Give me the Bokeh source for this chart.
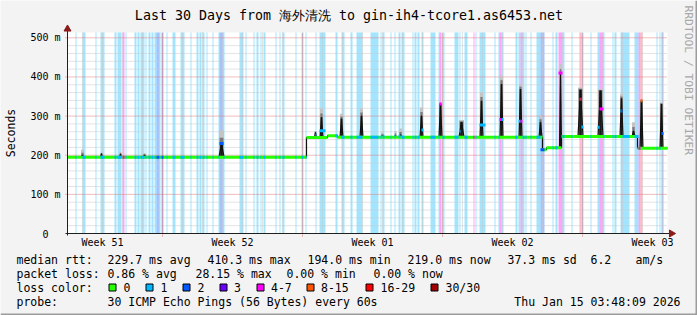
import numpy as np
from bokeh.plotting import figure
from bokeh.models import Range1d
from bokeh.core.properties import value
from bokeh.embed import file_html
from bokeh.resources import INLINE

# ---------------- data ----------------
title_text = "Last 30 Days from 海外清洗 to gin-ih4-tcore1.as6453.net"
y_label = "Seconds"
side_text = "RRDTOOL / TOBI OETIKER"
y_ticks = [0.0, 0.1, 0.2, 0.3, 0.4, 0.5]
y_tick_labels = ["0", "100 m", "200 m", "300 m", "400 m", "500 m"]
week_labels = ["Week 51", "Week 52", "Week 01", "Week 02", "Week 03"]
week_label_day = [1.75, 8.25, 15.25, 22.25, 29.25]   # days since window start
week_line_day = [4.75, 11.75, 18.75, 25.75]
days_total = 30.0
y_top = 0.5135                                       # seconds

loss_names = ["0", "1", "2", "3", "4-7", "8-15", "16-29", "30/30"]
loss_colors = ["#26ff00", "#00b8ff", "#0059ff", "#6a00ff",
               "#ff00ff", "#ff5500", "#ff0000", "#a10000"]

# packet-loss background bars: start day, length (days), loss class index
loss_start = [0.40, 0.75, 1.40, 1.65, 2.35, 2.50, 2.75, 2.90, 3.35, 3.50,
              3.65, 3.90, 4.05, 4.20, 4.35, 4.45, 4.60, 4.70, 4.95, 5.25,
              5.65, 6.15, 6.45, 6.60, 6.75, 6.95, 7.25, 7.55, 7.60, 7.80,
              8.60, 8.90, 9.30, 9.45, 9.65, 9.80, 10.40, 10.60, 10.75, 11.40,
              11.70, 11.90, 12.40, 12.60, 13.40, 13.70, 14.15, 14.45, 15.15, 15.65,
              15.75, 16.15, 16.35, 16.55, 16.70, 17.25, 17.35, 17.50, 17.70, 18.15,
              18.55, 18.60, 18.75, 19.35, 19.60, 19.85, 20.30, 20.40, 20.60, 21.35,
              21.55, 21.60, 21.70, 22.40, 22.55, 22.65, 22.75, 22.90, 23.15, 23.45,
              23.65, 24.25, 24.40, 24.55, 24.75, 25.20, 25.60, 25.65, 25.70, 26.15,
              26.50, 26.60, 26.80, 27.25, 27.35, 27.65, 27.70, 27.75, 28.35, 28.55,
              28.65, 29.45, 29.60, 29.70]
loss_len = [0.05, 0.15, 0.05, 0.20, 0.10, 0.20, 0.10, 0.05, 0.10, 0.10,
            0.20, 0.05, 0.10, 0.10, 0.10, 0.15, 0.05, 0.10, 0.05, 0.15,
            0.20, 0.05, 0.10, 0.10, 0.10, 0.05, 0.05, 0.05, 0.20, 0.05,
            0.20, 0.05, 0.05, 0.10, 0.05, 0.10, 0.05, 0.05, 0.10, 0.05,
            0.10, 0.05, 0.05, 0.30, 0.10, 0.15, 0.10, 0.30, 0.40, 0.05,
            0.10, 0.05, 0.05, 0.10, 0.15, 0.05, 0.10, 0.10, 0.10, 0.25,
            0.05, 0.10, 0.10, 0.20, 0.05, 0.15, 0.05, 0.05, 0.30, 0.05,
            0.05, 0.10, 0.10, 0.10, 0.10, 0.10, 0.10, 0.05, 0.05, 0.20,
            0.20, 0.05, 0.10, 0.20, 0.10, 0.05, 0.05, 0.05, 0.10, 0.05,
            0.10, 0.20, 0.05, 0.05, 0.10, 0.05, 0.05, 0.35, 0.20, 0.10,
            0.10, 0.05, 0.05, 0.10]
loss_class = [1, 1, 1, 1, 1, 1, 4, 1, 1, 1,
              1, 1, 1, 1, 1, 2, 1, 2, 1, 1,
              1, 1, 1, 1, 1, 1, 1, 1, 2, 1,
              1, 1, 1, 1, 1, 1, 1, 1, 1, 1,
              1, 1, 1, 1, 1, 1, 1, 1, 1, 1,
              1, 1, 1, 1, 1, 1, 1, 1, 1, 1,
              1, 4, 1, 1, 1, 1, 4, 1, 1, 1,
              1, 4, 1, 1, 1, 4, 1, 1, 1, 1,
              2, 1, 1, 4, 1, 1, 4, 5, 1, 1,
              1, 4, 1, 1, 1, 1, 2, 1, 1, 4,
              5, 1, 1, 2]

# median rtt plateaus (ms)
level_from = [0.00, 11.95, 13.00, 13.50, 23.75, 23.95, 24.70, 28.50]
level_to = [11.95, 13.00, 13.50, 23.75, 23.95, 24.70, 28.50, 30.00]
level_ms = [195, 245, 250, 246, 214, 219, 248, 218]

# rtt spikes: centre day, width (days), median peak (ms), top of smoke (ms)
spike_day = [0.75, 1.70, 2.65, 3.85, 7.70, 12.40, 12.70, 13.70, 14.70, 15.75,
             16.40, 16.65, 17.70, 18.65, 19.70, 20.70, 21.70, 22.65, 23.65, 24.65,
             25.65, 26.65, 27.70, 28.30, 28.70, 29.70]
spike_w = [0.15, 0.10, 0.10, 0.15, 0.25, 0.10, 0.15, 0.15, 0.15, 0.15,
           0.10, 0.15, 0.15, 0.15, 0.25, 0.15, 0.15, 0.15, 0.15, 0.10,
           0.25, 0.25, 0.15, 0.15, 0.15, 0.15]
spike_peak_ms = [200, 204, 203, 200, 230, 258, 297, 293, 301, 250,
                 250, 252, 301, 331, 284, 339, 382, 369, 284, 410,
                 367, 365, 345, 262, 339, 331]
spike_smoke_ms = [214, 207, 208, 205, 263, 262, 319, 306, 319, 258,
                  262, 268, 322, 335, 290, 360, 403, 382, 301, 433,
                  373, 369, 356, 284, 341, 335]

legend_rows = [
    ["median rtt:", "229.7 ms avg", "410.3 ms max", "194.0 ms min",
     "219.0 ms now", "37.3 ms sd", "6.2", "am/s"],
    ["packet loss:", "0.86 % avg", "28.15 % max", "0.00 % min", "0.00 % now"],
    ["loss color:"],
    ["probe:", "30 ICMP Echo Pings (56 Bytes) every 60s"],
]
stamp_text = "Thu Jan 15 03:48:09 2026"

# ---------------- layout (canvas pixels) ----------------
W, H = 697, 315
X0, PXD = 67.0, 20.0      # pixel of day 0, pixels per day
Y0, PXS = 233.0, 391.4    # pixel of 0 s, pixels per second
FONT = "DejaVu Sans Mono"

p = figure(width=W, height=H,
           x_range=Range1d(-X0 / PXD, (W - X0) / PXD),
           y_range=Range1d(-(H - Y0) / PXS, Y0 / PXS),
           x_axis_location=None, y_axis_location=None, title_location=None,
           toolbar_location=None, output_backend="svg", min_border=0)
p.extra_x_ranges = {"cx": Range1d(0, W)}
p.extra_y_ranges = {"cy": Range1d(H, 0)}
p.background_fill_color = "#f3f3f3"
p.border_fill_color = "#f3f3f3"
p.outline_line_color = None
p.xgrid.visible = False
p.ygrid.visible = False

PX = 1.0 / PXD   # one pixel in days
PY = 1.0 / PXS   # one pixel in seconds

# plot canvas
p.quad(left=[0], right=[days_total], bottom=[0], top=[y_top],
       fill_color="white", line_color=None)

# loss background bars
ls = np.array(loss_start)
ll = np.array(loss_len)
p.quad(left=ls, right=ls + ll, bottom=0, top=y_top,
       fill_color=[loss_colors[c] for c in loss_class], fill_alpha=0.36,
       line_color=None)

# grid
minor_days = [0.75 + k for k in range(30) if (0.75 + k) not in week_line_day]
p.segment(x0=minor_days, x1=minor_days, y0=0, y1=y_top,
          line_color="#c8c8c8", line_width=1, line_dash="1 1")
minor_s = [round(0.02 * k, 2) for k in range(1, 26) if k % 5 != 0]
p.segment(x0=0, x1=days_total, y0=minor_s, y1=minor_s,
          line_color="#c8c8c8", line_width=1, line_dash="1 1")
p.segment(x0=week_line_day, x1=week_line_day, y0=-3 * PY, y1=y_top,
          line_color="#e07a7a", line_width=1, line_dash="1 1")
major_s = y_ticks[1:]
p.segment(x0=-2 * PX, x1=days_total, y0=major_s, y1=major_s,
          line_color="#e07a7a", line_width=1, line_dash="1 1")

# median rtt polyline
mx, my = [], []
sm_l, sm_r, sm_b, sm_t, sm_mid, sm_pk = [], [], [], [], [], []
for a, b, lv in zip(level_from, level_to, level_ms):
    mx.append(a)
    my.append(lv / 1000)
    for c, w, pk, sk in zip(spike_day, spike_w, spike_peak_ms, spike_smoke_ms):
        if a <= c < b:
            mx += [c - w / 2, c, c + w / 2]
            my += [lv / 1000, pk / 1000, lv / 1000]
            sm_l.append(c - w / 2)
            sm_r.append(c + w / 2)
            sm_b.append(lv / 1000)
            sm_t.append(sk / 1000)
            sm_pk.append(pk / 1000)
            sm_mid.append((pk + 0.45 * (sk - pk)) / 1000)
    mx.append(b)
    my.append(lv / 1000)

# smoke
p.quad(left=sm_l, right=sm_r, bottom=sm_b, top=sm_t,
       fill_color="#c4c4c4", line_color=None)
sm_c = (np.array(sm_l) + np.array(sm_r)) / 2
sm_hw = (np.array(sm_r) - np.array(sm_l)) * 0.38
p.quad(left=sm_c - sm_hw, right=sm_c + sm_hw, bottom=sm_b, top=sm_mid,
       fill_color="#7a7a7a", line_color=None)
sm_cw = (np.array(sm_r) - np.array(sm_l)) * 0.25
p.quad(left=sm_c - sm_cw, right=sm_c + sm_cw, bottom=sm_b, top=sm_pk,
       fill_color="#1a1a1a", line_color=None)

p.line(mx, my, line_color="#111111", line_width=1.2)

# median coloured by loss (0 loss = green)
p.segment(x0=level_from, x1=level_to,
          y0=[v / 1000 for v in level_ms], y1=[v / 1000 for v in level_ms],
          line_color=loss_colors[0], line_width=3)
bar_mid_y = np.interp(ls + ll / 2, mx, my)
p.segment(x0=ls, x1=ls + ll, y0=bar_mid_y, y1=bar_mid_y,
          line_color=[loss_colors[c] for c in loss_class], line_width=3)

# axes
p.segment(x0=[0], x1=[0], y0=[-2 * PY], y1=[(Y0 - 28) / PXS],
          line_color="#202020", line_width=1)
p.segment(x0=[-2 * PX], x1=[days_total + 2 * PX], y0=[0], y1=[0],
          line_color="#202020", line_width=1)
p.scatter(x=[0], y=[(Y0 - 28.5) / PXS], marker="triangle", size=7,
          fill_color="#8b1a1a", line_color="#8b1a1a")
p.scatter(x=[days_total + 4 * PX], y=[0], marker="triangle", size=7,
          angle=-np.pi / 2, fill_color="#8b1a1a", line_color="#8b1a1a")

# tick labels
tick_x = [48 if t == 0 else 60 for t in y_ticks]
p.text(x=tick_x, y=y_ticks, text=y_tick_labels, x_range_name="cx",
       text_font=value(FONT), text_font_size="10px", text_color="black",
       text_align="right", text_baseline="middle")
p.text(x=week_label_day, y=[242] * len(week_labels), text=week_labels,
       y_range_name="cy", text_font=value(FONT), text_font_size="10px",
       text_color="black", text_align="center", text_baseline="middle")

# title, axis label, side text
p.text(x=[W / 2], y=[15], text=[title_text], x_range_name="cx", y_range_name="cy",
       text_font=value(FONT), text_font_size="13.3px", text_color="black",
       text_align="center", text_baseline="middle")
p.text(x=[10], y=[(32 + Y0) / 2], text=[y_label], x_range_name="cx", y_range_name="cy",
       angle=np.pi / 2, text_font=value(FONT), text_font_size="11.5px",
       text_color="black", text_align="center", text_baseline="middle")
p.text(x=[688], y=[5], text=[side_text], x_range_name="cx", y_range_name="cy",
       angle=-np.pi / 2, text_font=value(FONT), text_font_size="11.3px",
       text_color="#a8a8a8", text_align="left", text_baseline="middle")

# legend texts
row_y = [259, 273, 287, 301]
row_x = [
    [16, 107, 207, 307, 407, 507, 590, 635],
    [16, 107, 195, 286, 373],
    [16],
    [16, 107],
]
lx, ly, lt = [], [], []
for xs, yv, texts in zip(row_x, row_y, legend_rows):
    for xv, tx in zip(xs, texts):
        lx.append(xv)
        ly.append(yv)
        lt.append(tx)
box_left = [108.5, 145.5, 182.5, 219.5, 256.5, 306.5, 365.5, 430.5]
box_text_x = [123, 160, 197, 233.5, 270.5, 320.5, 380, 445]
lx += box_text_x
ly += [287] * len(box_text_x)
lt += loss_names
p.text(x=lx, y=ly, text=lt, x_range_name="cx", y_range_name="cy",
       text_font=value(FONT), text_font_size="11.5px", text_color="black",
       text_align="left", text_baseline="middle")
p.text(x=[680], y=[301], text=[stamp_text], x_range_name="cx", y_range_name="cy",
       text_font=value(FONT), text_font_size="11.5px", text_color="black",
       text_align="right", text_baseline="middle")
bl = np.array(box_left)
p.quad(left=bl, right=bl + 7, top=283.5, bottom=290.5,
       x_range_name="cx", y_range_name="cy",
       fill_color=loss_colors, line_color="black", line_width=1)

# frame shading (bottom / right)
p.quad(left=[0, W - 2], right=[W, W], top=[H - 2, 0], bottom=[H, H],
       x_range_name="cx", y_range_name="cy",
       fill_color="#9c9c9c", line_color=None)

open("out.html", "w").write(file_html(p, INLINE))
